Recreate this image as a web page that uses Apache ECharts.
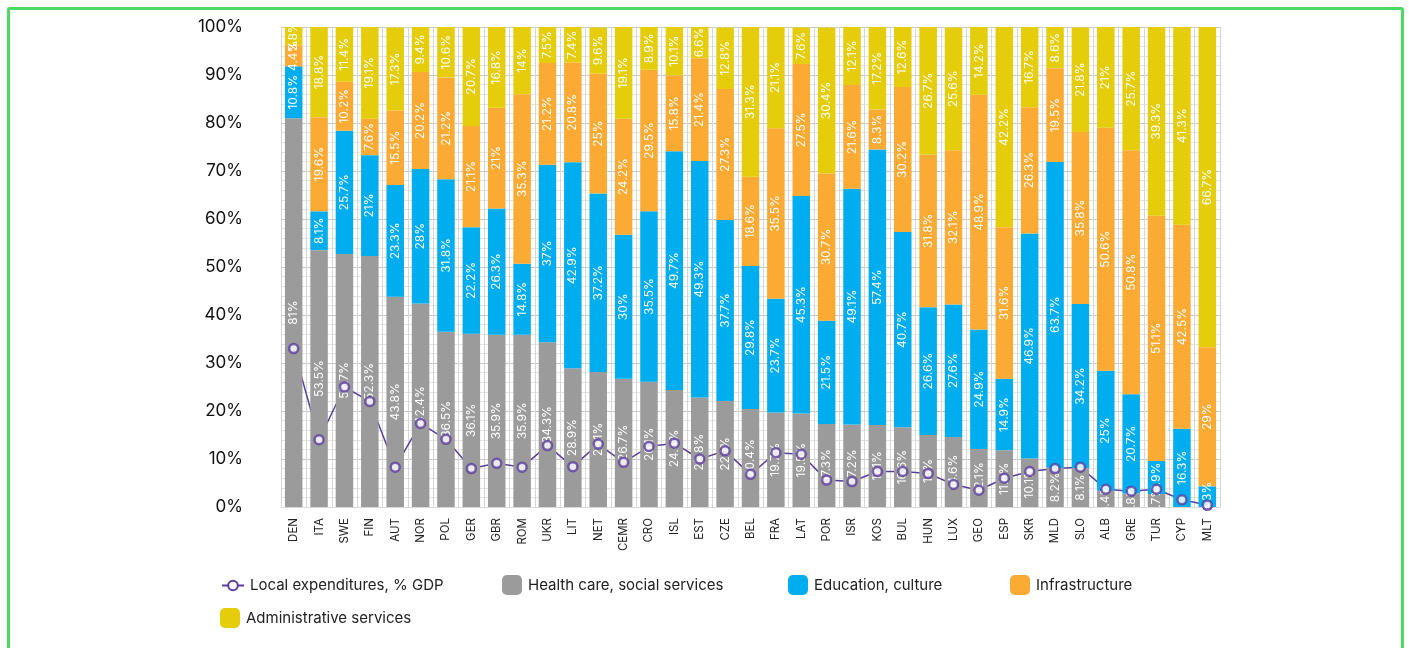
<!DOCTYPE html>
<html>
<head>
<meta charset="utf-8">
<script src="https://cdn.jsdelivr.net/npm/echarts@6/dist/echarts.min.js"></script>
<style>
  html, body { margin: 0; padding: 0; background: #fff; }
  #chart { position: absolute; left: 0; top: 0; width: 1409px; height: 648px; }
  .frame {
    position: absolute; left: 7px; top: 7px; width: 1391px; height: 700px;
    border: 3px solid #4cd964; border-radius: 3px; pointer-events: none;
  }
</style>
</head>
<body>
<div id="chart"></div>
<div class="frame"></div>
<script>
const countries = ["DEN", "ITA", "SWE", "FIN", "AUT", "NOR", "POL", "GER", "GBR", "ROM", "UKR", "LIT", "NET", "CEMR", "CRO", "ISL", "EST", "CZE", "BEL", "FRA", "LAT", "POR", "ISR", "KOS", "BUL", "HUN", "LUX", "GEO", "ESP", "SKR", "MLD", "SLO", "ALB", "GRE", "TUR", "CYP", "MLT"];

const health = [81, 53.5, 52.7, 52.3, 43.8, 42.4, 36.5, 36.1, 35.9, 35.9, 34.3, 28.9, 28.1, 26.7, 26.1, 24.4, 22.8, 22.1, 20.4, 19.7, 19.5, 17.3, 17.2, 17.1, 16.6, 15, 14.6, 12.1, 11.8, 10.1, 8.2, 8.1, 3.4, 2.8, 2.7, 0, 0];
const education = [10.8, 8.1, 25.7, 21, 23.3, 28, 31.8, 22.2, 26.3, 14.8, 37, 42.9, 37.2, 30, 35.5, 49.7, 49.3, 37.7, 29.8, 23.7, 45.3, 21.5, 49.1, 57.4, 40.7, 26.6, 27.6, 24.9, 14.9, 46.9, 63.7, 34.2, 25, 20.7, 6.9, 16.3, 4.3];
const infrastructure = [4.4, 19.6, 10.2, 7.6, 15.5, 20.2, 21.2, 21.1, 21, 35.3, 21.2, 20.8, 25, 24.2, 29.5, 15.8, 21.4, 27.3, 18.6, 35.5, 27.5, 30.7, 21.6, 8.3, 30.2, 31.8, 32.1, 48.9, 31.6, 26.3, 19.5, 35.8, 50.6, 50.8, 51.1, 42.5, 29];
const admin = [3.8, 18.8, 11.4, 19.1, 17.3, 9.4, 10.6, 20.7, 16.8, 14, 7.5, 7.4, 9.6, 19.1, 8.9, 10.1, 6.6, 12.8, 31.3, 21.1, 7.6, 30.4, 12.1, 17.2, 12.6, 26.7, 25.6, 14.2, 42.2, 16.7, 8.6, 21.8, 21, 25.7, 39.3, 41.3, 66.7];
const localGdp = [33, 14, 25, 22, 8.3, 17.4, 14.1, 8, 9.1, 8.3, 12.8, 8.4, 13.1, 9.3, 12.6, 13.3, 10, 11.7, 6.8, 11.3, 11, 5.6, 5.3, 7.4, 7.4, 7, 4.7, 3.5, 6, 7.4, 8, 8.3, 3.7, 3.3, 3.7, 1.5, 0.4];

const LINE_NAME = "Local expenditures, % GDP";
const FONT = "Inter, 'Noto Sans', sans-serif";
const PURPLE = "#5b3f9f";

function barSeries(name, data, color) {
  return {
    name,
    type: "bar",
    stack: "total",
    data,
    barWidth: "69%",
    z: 2,
    itemStyle: { color },
    label: {
      show: true,
      position: "inside",
      rotate: 90,
      color: "#fff",
      fontSize: 12,
      fontFamily: FONT,
      formatter: p => (p.value ? p.value + "%" : "")
    }
  };
}

function legendAt(name, left, top, icon) {
  return {
    data: [{ name, icon }],
    left,
    top,
    itemWidth: icon === "roundRect" ? 20 : 22,
    itemHeight: icon === "roundRect" ? 20 : 12,
    itemGap: 0,
    selectedMode: false,
    textStyle: { fontSize: 15, color: "#222", fontFamily: FONT, padding: [0, 0, 0, 1] }
  };
}

const chart = echarts.init(document.getElementById("chart"));
chart.setOption({
  animation: false,
  textStyle: { fontFamily: FONT },
  grid: { left: 281, right: 189, top: 27, bottom: 141 },
  legend: [
    legendAt(LINE_NAME, 216, 573, undefined),
    legendAt("Health care, social services", 497, 570, "roundRect"),
    legendAt("Education, culture", 783, 570, "roundRect"),
    legendAt("Infrastructure", 1005, 570, "roundRect"),
    legendAt("Administrative services", 215, 603, "roundRect")
  ],
  xAxis: [
    {
      type: "category",
      data: countries,
      axisTick: { show: false },
      axisLine: { lineStyle: { color: "#d8d8d8" } },
      axisLabel: { rotate: 90, fontSize: 11.5, color: "#222", margin: 11, interval: 0, fontFamily: FONT }
    },
    {
      // only draws the graph-paper vertical lines
      type: "value",
      min: 0,
      max: countries.length,
      interval: 1,
      show: true,
      axisLine: { show: false },
      axisTick: { show: false },
      axisLabel: { show: false },
      splitLine: { show: true, lineStyle: { color: "#d6d6d6", width: 1 } },
      minorSplitLine: { show: true, lineStyle: { color: "#e6e6e6", width: 1 } },
      minorTick: { show: false, splitNumber: 5 }
    }
  ],
  yAxis: {
    type: "value",
    min: 0,
    max: 100,
    interval: 10,
    axisLabel: { formatter: "{value}%", fontSize: 17, color: "#111", margin: 38, fontFamily: FONT },
    axisLine: { show: false },
    axisTick: { show: false },
    splitLine: { lineStyle: { color: "#c8c8c8" } },
    minorTick: { show: false, splitNumber: 5 },
    minorSplitLine: { show: true, lineStyle: { color: "#e4e4e4" } }
  },
  series: [
    {
      name: LINE_NAME,
      type: "line",
      data: localGdp,
      z: 1,
      symbol: "circle",
      symbolSize: 9,
      lineStyle: { color: PURPLE, width: 1.5 },
      itemStyle: { color: "#fff", borderColor: PURPLE, borderWidth: 2.5 }
    },
    barSeries("Health care, social services", health, "#9b9b9b"),
    barSeries("Education, culture", education, "#00aeef"),
    barSeries("Infrastructure", infrastructure, "#fbaa33"),
    barSeries("Administrative services", admin, "#e6cd0b"),
    {
      name: LINE_NAME,
      type: "scatter",
      data: localGdp,
      z: 5,
      symbol: "circle",
      symbolSize: 9,
      itemStyle: { color: "#fff", borderColor: PURPLE, borderWidth: 2.5 }
    }
  ]
});
</script>
</body>
</html>
